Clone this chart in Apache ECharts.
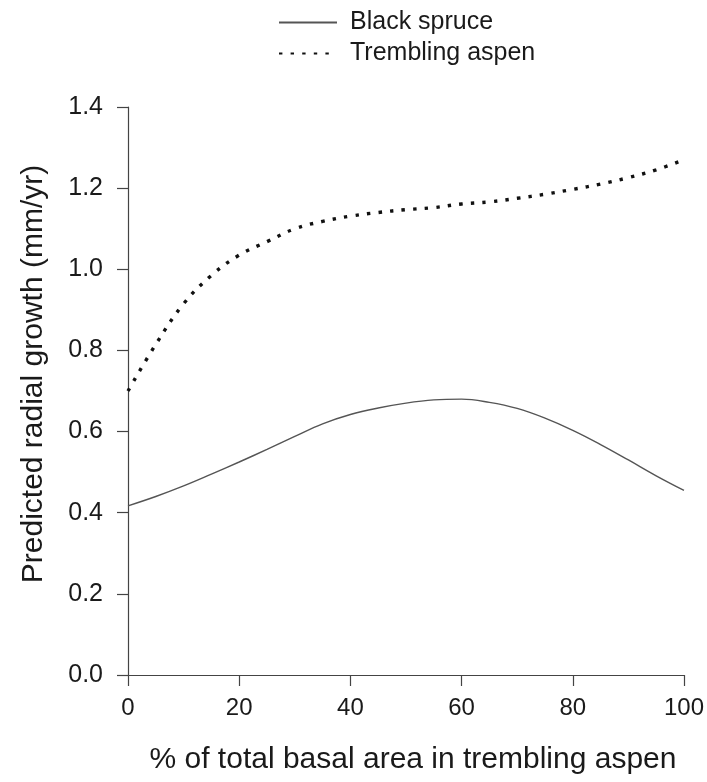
<!DOCTYPE html>
<html>
<head>
<meta charset="utf-8">
<script src="https://cdn.jsdelivr.net/npm/echarts@6/dist/echarts.min.js"></script>
<style>
  html, body { margin: 0; padding: 0; background: #fff; }
  #chart { width: 707px; height: 782px; }
</style>
</head>
<body>
<div id="chart"></div>
<script>
// Share of stand basal area in trembling aspen (%)
const pctAspen = [0, 5, 10, 15, 20, 25, 30, 35, 40, 45, 50, 55, 60, 65, 70, 75, 80, 85, 90, 95, 100];

// Predicted radial growth (mm/yr)
const blackSpruce = [0.417, 0.440, 0.466, 0.495, 0.525, 0.556, 0.588, 0.619, 0.642, 0.658, 0.670, 0.678, 0.680, 0.672, 0.657, 0.633, 0.603, 0.568, 0.530, 0.491, 0.455];
const tremblingAspen = [0.700, 0.815, 0.915, 0.985, 1.035, 1.068, 1.100, 1.118, 1.131, 1.140, 1.147, 1.152, 1.161, 1.166, 1.175, 1.185, 1.197, 1.210, 1.226, 1.245, 1.270];

const xTicks = { min: 0, max: 100, interval: 20 };
const yTicks = { min: 0, max: 1.4, interval: 0.2 };

const FONT = 'Liberation Sans, Arial, Helvetica, sans-serif';
const TEXT = '#1a1a1a';
const AXIS = '#444';

const pairs = (xs, ys) => xs.map((x, i) => [x, ys[i]]);

const chart = echarts.init(document.getElementById('chart'), null, { renderer: 'canvas' });

chart.setOption({
  backgroundColor: '#fff',
  animation: false,
  textStyle: { fontFamily: FONT },
  legend: {
    orient: 'vertical',
    left: 273,
    top: 5,
    itemWidth: 58,
    itemHeight: 12,
    itemGap: 6,
    itemStyle: { opacity: 0 },
    textStyle: { fontFamily: FONT, fontSize: 25, color: TEXT, padding: [0, 0, 0, 8] },
    data: ['Black spruce', 'Trembling aspen']
  },
  grid: { left: 128, right: 23, top: 107, bottom: 107 },
  xAxis: {
    type: 'value',
    min: xTicks.min,
    max: xTicks.max,
    interval: xTicks.interval,
    name: '% of total basal area in trembling aspen',
    nameLocation: 'middle',
    nameGap: 70,
    nameTextStyle: { fontFamily: FONT, fontSize: 30, color: TEXT, padding: [0, 0, 0, 14] },
    axisLine: { lineStyle: { color: AXIS, width: 1.2 } },
    axisTick: { inside: false, length: 11, lineStyle: { color: AXIS, width: 1.2 } },
    axisLabel: { fontFamily: FONT, fontSize: 24, color: TEXT, margin: 21 },
    splitLine: { show: false }
  },
  yAxis: {
    type: 'value',
    min: yTicks.min,
    max: yTicks.max,
    interval: yTicks.interval,
    name: 'Predicted radial growth (mm/yr)',
    nameLocation: 'middle',
    nameGap: 79,
    nameTextStyle: { fontFamily: FONT, fontSize: 30, color: TEXT, padding: [0, 0, 0, 34] },
    axisLine: { show: true, lineStyle: { color: AXIS, width: 1.2 } },
    axisTick: { show: true, inside: false, length: 11, lineStyle: { color: AXIS, width: 1.2 } },
    axisLabel: {
      fontFamily: FONT, fontSize: 25, color: TEXT, margin: 25,
      formatter: v => v.toFixed(1)
    },
    splitLine: { show: false }
  },
  series: [
    {
      name: 'Black spruce',
      type: 'line',
      smooth: 0.4,
      symbol: 'none',
      data: pairs(pctAspen, blackSpruce),
      lineStyle: { color: '#555', width: 1.4 },
      itemStyle: { color: '#555' }
    },
    {
      name: 'Trembling aspen',
      type: 'line',
      smooth: 0.4,
      symbol: 'none',
      data: pairs(pctAspen, tremblingAspen),
      lineStyle: { color: '#111', width: 3.4, type: [3.4, 8.2], cap: 'butt' },
      itemStyle: { color: '#111' }
    }
  ]
});
</script>
</body>
</html>
